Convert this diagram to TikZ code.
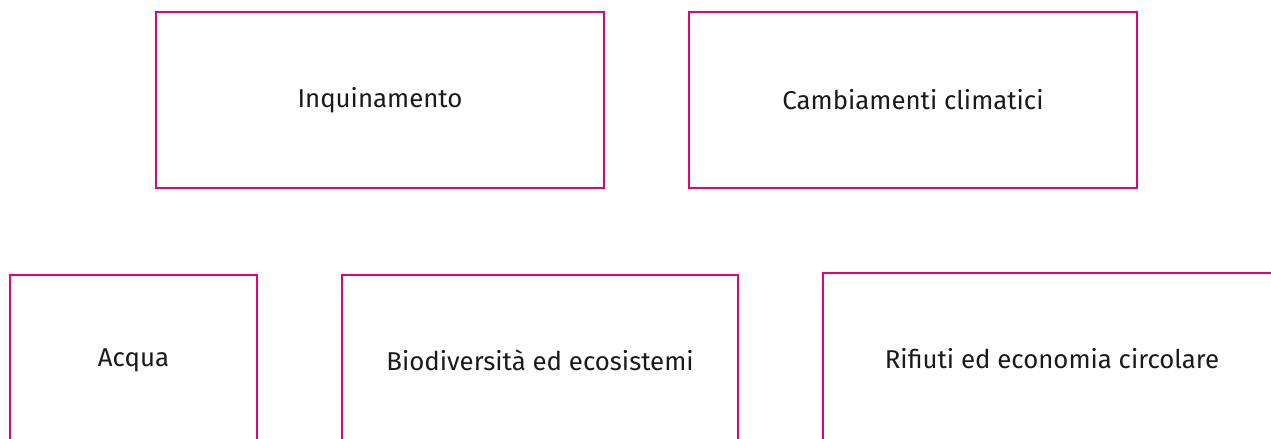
\documentclass[tikz,border=0pt]{standalone}
\usepackage{fontspec}
\setmainfont{Fira Sans}
\usetikzlibrary{positioning}
\definecolor{TopicMagenta}{HTML}{E6007E}
\definecolor{TopicText}{HTML}{1A1A1A}
\tikzset{
  topicbox/.style={draw=TopicMagenta, line width=1pt, fill=none,
                   align=center, font=\fontsize{12.9}{15}\selectfont\color{TopicText},
                   inner sep=0pt, outer sep=0pt},
}

\begin{document}
\begin{tikzpicture}[x=0.5pt, y=-0.5pt]
  \useasboundingbox (0,0) rectangle (1271,439);
  \clip (0,0) rectangle (1271,439);

  % top row
  \node[topicbox, minimum width=224pt, minimum height=88pt] (inq)
        at (380,100) {Inquinamento};
  \node[topicbox, minimum width=224pt, minimum height=88pt] (clima)
        at (913,100) {Cambiamenti climatici};

  % bottom row, cut by the page edge
  \node[topicbox, minimum width=123.5pt, minimum height=85pt] (acqua)
        at (133.5,360) {Acqua};
  \node[topicbox, minimum width=198pt, minimum height=85pt] (bio)
        at (540,360) {Biodiversità ed ecosistemi};
  \node[topicbox, minimum width=229pt, minimum height=86pt] (rifiuti)
        at (1052,359) {Rifiuti ed economia circolare};

\end{tikzpicture}
\end{document}
